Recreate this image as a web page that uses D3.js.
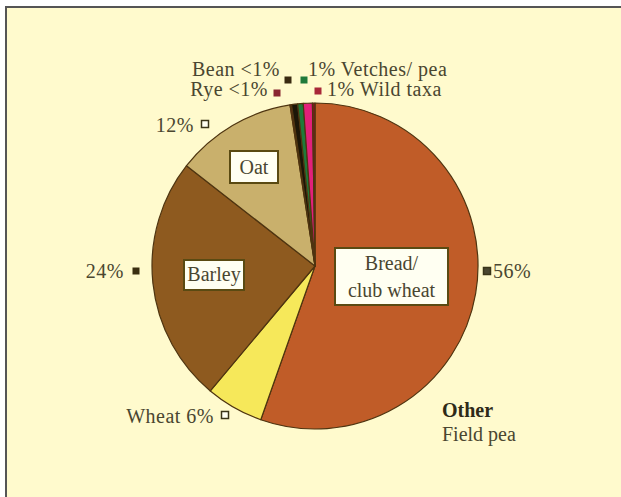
<!DOCTYPE html>
<html>
<head>
<meta charset="utf-8">
<script src="https://cdn.jsdelivr.net/npm/d3@7"></script>
<style>
  html, body { margin: 0; padding: 0; background: #fff; }
  svg { display: block; }
</style>
</head>
<body>
<div id="chart"></div>
<script>
const width = 621, height = 497;

// slices, clockwise from 12 o'clock
const categories = ["Bread/club wheat", "Wheat", "Barley", "Oat", "Rye", "Bean", "Vetches/ pea", "Wild taxa", "Field pea"];
const shares = [55.4, 5.7, 24.45, 12.0, 0.15, 0.6, 0.55, 0.9, 0.25];
const sliceColors = ["#c05c28", "#f6e85a", "#8e5a1f", "#c9b06c", "#7a1c1c", "#1c1608", "#1f7a3a", "#e2207a", "#7a1c1c"];

// outside labels
const outLabels = ["56%", "Wheat 6%", "24%", "12%", "Rye <1%", "Bean <1%", "1% Vetches/ pea", "1% Wild taxa"];

const cx = 315, cy = 266, r = 163;

const svg = d3.select("#chart").append("svg")
  .attr("width", width)
  .attr("height", height);

svg.append("rect")
  .attr("x", 6).attr("y", 7)
  .attr("width", width - 6).attr("height", height - 7)
  .attr("fill", "#fffacd");

svg.append("path")
  .attr("d", `M6,${height} V7 H${width}`)
  .attr("fill", "none")
  .attr("stroke", "#555")
  .attr("stroke-width", 2);

const pie = d3.pie().sort(null).value(d => d)
  .startAngle(0).endAngle(2 * Math.PI);
const arc = d3.arc().innerRadius(0).outerRadius(r);
const arcs = pie(shares);

const g = svg.append("g").attr("transform", `translate(${cx},${cy})`);

g.selectAll("path.slice")
  .data(arcs)
  .enter().append("path")
  .attr("class", "slice")
  .attr("d", arc)
  .attr("fill", (d, i) => sliceColors[i])
  .attr("stroke", "#4e3410")
  .attr("stroke-width", 1.2)
  .attr("stroke-linejoin", "round");

const font = "'Liberation Serif', 'DejaVu Serif', serif";
const textColor = "#4a4630";
const fs = 20;

// boxed labels inside slices
const boxes = [
  { lines: ["Bread/", "club wheat"], x: 335, y: 248, w: 113, h: 57, base: [270, 297] },
  { lines: ["Barley"], x: 184, y: 260, w: 60, h: 30, base: [281] },
  { lines: ["Oat"], x: 230, y: 151, w: 48, h: 32, base: [174] }
];
boxes.forEach(b => {
  svg.append("rect")
    .attr("x", b.x).attr("y", b.y)
    .attr("width", b.w).attr("height", b.h)
    .attr("fill", "#fffff2")
    .attr("stroke", "#5a4a12")
    .attr("stroke-width", 2);
  b.lines.forEach((t, k) => {
    svg.append("text")
      .attr("x", b.x + b.w / 2)
      .attr("y", b.base[k])
      .attr("text-anchor", "middle")
      .attr("font-family", font)
      .attr("font-size", fs)
      .attr("fill", textColor)
      .text(t);
  });
});

// outside labels with small square markers
const markers = [
  { sx: 487, sy: 271, anchor: "start", tx: 493, ty: 278, fill: "#4a4630", hollow: true },
  { sx: 225, sy: 415, anchor: "end", tx: 214, ty: 423, fill: "#fffff2", hollow: true },
  { sx: 136, sy: 271, anchor: "end", tx: 124, ty: 278, fill: "#3a2e10", hollow: false },
  { sx: 205, sy: 124, anchor: "end", tx: 194, ty: 132, fill: "#fffff2", hollow: true },
  { sx: 277, sy: 93, anchor: "end", tx: 268, ty: 96, fill: "#8a2630", hollow: false },
  { sx: 288, sy: 80, anchor: "end", tx: 280, ty: 76, fill: "#3a2a10", hollow: false },
  { sx: 304, sy: 80, anchor: "start", tx: 308, ty: 76, fill: "#1f7a3a", hollow: false },
  { sx: 318, sy: 91, anchor: "start", tx: 327, ty: 96, fill: "#a82838", hollow: false }
];
markers.forEach(m => {
  svg.append("rect")
    .attr("x", m.sx - 3.5).attr("y", m.sy - 3.5)
    .attr("width", 7).attr("height", 7)
    .attr("fill", m.fill)
    .attr("stroke", m.hollow ? "#3a3418" : "none")
    .attr("stroke-width", 1.5);
});
markers.forEach((m, i) => {
  svg.append("text")
    .attr("x", m.tx)
    .attr("y", m.ty)
    .attr("text-anchor", m.anchor)
    .attr("font-family", font)
    .attr("font-size", fs)
    .attr("letter-spacing", 0.5)
    .attr("fill", textColor)
    .text(outLabels[i]);
});

svg.append("text")
  .attr("x", 442).attr("y", 417)
  .attr("font-family", font)
  .attr("font-size", fs)
  .attr("font-weight", "bold")
  .attr("fill", "#2e2a18")
  .text("Other");
svg.append("text")
  .attr("x", 442).attr("y", 441)
  .attr("font-family", font)
  .attr("font-size", fs)
  .attr("fill", textColor)
  .text("Field pea");
</script>
</body>
</html>
